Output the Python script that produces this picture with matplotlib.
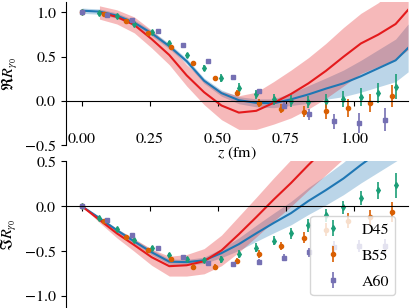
import matplotlib
matplotlib.use("Agg")
import matplotlib.pyplot as plt

plt.rcParams["font.family"] = ["STIXGeneral", "DejaVu Serif"]
plt.rcParams["mathtext.fontset"] = "stix"
plt.rcParams["font.size"] = 11.5

# lattice data, z in fm
z_d45 = [0.0, 0.064, 0.128, 0.192, 0.256, 0.321, 0.385, 0.449, 0.513, 0.577,
         0.641, 0.705, 0.769, 0.833, 0.897, 0.962, 1.026, 1.090, 1.154]
z_b55 = [0.0, 0.0815, 0.163, 0.2445, 0.326, 0.4075, 0.489, 0.5705, 0.652,
         0.7335, 0.815, 0.8965, 0.978, 1.0595, 1.141]
z_a60 = [0.0, 0.0928, 0.1856, 0.2784, 0.3712, 0.464, 0.5568, 0.6496, 0.7424,
         0.8352, 0.928, 1.0208, 1.1136]

re_d45 = [1.0, 0.99, 0.96, 0.875, 0.775, 0.655, 0.515, 0.375, 0.255, 0.15,
          0.075, 0.02, 0.0, -0.01, 0.0, 0.02, 0.045, 0.094, 0.16]
re_d45_err = [0.005, 0.008, 0.01, 0.012, 0.015, 0.02, 0.025, 0.035, 0.045, 0.05,
              0.055, 0.06, 0.065, 0.07, 0.08, 0.09, 0.1, 0.115, 0.14]
re_b55 = [1.0, 0.985, 0.90, 0.77, 0.605, 0.43, 0.255, 0.094, -0.02, -0.085,
          -0.12, -0.11, -0.075, -0.02, 0.056]
re_b55_err = [0.005, 0.008, 0.01, 0.012, 0.015, 0.02, 0.025, 0.035, 0.045, 0.055,
              0.065, 0.09, 0.1, 0.1, 0.12]
re_a60 = [1.0, 0.975, 0.91, 0.795, 0.63, 0.45, 0.27, 0.11, -0.05, -0.15,
          -0.23, -0.245, -0.21]
re_a60_err = [0.005, 0.008, 0.01, 0.012, 0.015, 0.018, 0.022, 0.03, 0.04, 0.06,
              0.085, 0.11, 0.13]

im_d45 = [0.0, -0.126, -0.252, -0.37, -0.46, -0.544, -0.59, -0.60, -0.59, -0.533,
          -0.46, -0.38, -0.30, -0.21, -0.10, -0.01, 0.092, 0.178, 0.233]
im_d45_err = [0.005, 0.008, 0.01, 0.012, 0.015, 0.02, 0.025, 0.03, 0.035, 0.045,
              0.05, 0.055, 0.065, 0.075, 0.07, 0.07, 0.08, 0.095, 0.14]
im_b55 = [0.0, -0.167, -0.34, -0.48, -0.59, -0.67, -0.67, -0.61, -0.53, -0.44,
          -0.35, -0.26, -0.16, -0.12, -0.064]
im_b55_err = [0.005, 0.008, 0.01, 0.015, 0.02, 0.025, 0.03, 0.035, 0.045, 0.045,
              0.06, 0.07, 0.085, 0.085, 0.11]
im_a60 = [0.0, -0.155, -0.315, -0.46, -0.56, -0.63, -0.645, -0.62, -0.57, -0.51,
          -0.45, -0.44, -0.44]
im_a60_err = [0.005, 0.008, 0.01, 0.012, 0.015, 0.02, 0.025, 0.03, 0.04, 0.05,
              0.06, 0.07, 0.08]

# continuum curves
z_fit = [0.0, 0.064, 0.128, 0.192, 0.256, 0.321, 0.385, 0.449, 0.513, 0.577,
         0.641, 0.705, 0.769, 0.833, 0.897, 0.962, 1.026, 1.090, 1.154, 1.2]

re_blue = [1.02, 1.01, 0.965, 0.885, 0.765, 0.62, 0.45, 0.23, 0.09, 0.01,
           -0.02, -0.025, 0.02, 0.075, 0.14, 0.2, 0.28, 0.37, 0.46, 0.6]
re_blue_err = [0.03, 0.03, 0.03, 0.03, 0.03, 0.03, 0.03, 0.03, 0.035, 0.04,
               0.045, 0.05, 0.07, 0.1, 0.12, 0.15, 0.18, 0.21, 0.24, 0.27]
re_red = [None, 1.0, 0.95, 0.86, 0.70, 0.52, 0.29, 0.10, -0.05, -0.13,
          -0.11, -0.02, 0.08, 0.2, 0.34, 0.5, 0.65, 0.75, 0.87, 1.03]
re_red_err = [None, 0.075, 0.08, 0.09, 0.1, 0.11, 0.12, 0.14, 0.16, 0.19,
              0.21, 0.24, 0.27, 0.29, 0.31, 0.33, 0.34, 0.36, 0.4, 0.45]

im_blue = [0.0, -0.13, -0.265, -0.39, -0.51, -0.615, -0.62, -0.6, -0.52, -0.42,
           -0.3, -0.185, -0.075, 0.06, 0.18, 0.31, 0.46, 0.6, 0.74, 0.85]
im_blue_err = [0.0, 0.015, 0.02, 0.025, 0.03, 0.03, 0.03, 0.035, 0.05, 0.07,
               0.09, 0.11, 0.13, 0.15, 0.165, 0.18, 0.2, 0.22, 0.24, 0.26]
im_red = [0.0, -0.15, -0.30, -0.43, -0.565, -0.665, -0.655, -0.61, -0.49, -0.31,
          -0.12, 0.075, 0.26, 0.46, 0.65, 0.85, 1.05, 1.25, 1.45, 1.6]
im_red_err = [0.0, 0.03, 0.05, 0.07, 0.09, 0.11, 0.12, 0.14, 0.17, 0.2,
              0.22, 0.24, 0.26, 0.28, 0.3, 0.32, 0.34, 0.36, 0.38, 0.4]

RED = "#e41a1c"
BLUE = "#1f77b4"
sets = [
    ("D45", "#1b9e77", "d"),
    ("B55", "#d95f02", "o"),
    ("A60", "#7570b3", "s"),
]


def band(ax, z, y, err, color):
    pts = [(a, b, c) for a, b, c in zip(z, y, err) if b is not None]
    zz = [p[0] for p in pts]
    yy = [p[1] for p in pts]
    lo = [p[1] - p[2] for p in pts]
    hi = [p[1] + p[2] for p in pts]
    ax.fill_between(zz, lo, hi, color=color, alpha=0.3, lw=0)
    ax.plot(zz, yy, color=color, lw=1.5)


def style(ax):
    ax.spines["top"].set_visible(False)
    ax.spines["right"].set_visible(False)
    ax.spines["bottom"].set_position(("data", 0))
    ax.set_xlim(-0.06, 1.2)
    ax.set_xticks([0.0, 0.25, 0.5, 0.75, 1.0])


fig = plt.figure(figsize=(4.11, 3.08), dpi=100)
ax1 = fig.add_axes([0.16, 0.528, 0.833, 0.466])
ax2 = fig.add_axes([0.16, 0.0, 0.833, 0.476])

band(ax1, z_fit, re_blue, re_blue_err, BLUE)
band(ax1, z_fit, re_red, re_red_err, RED)
band(ax2, z_fit, im_blue, im_blue_err, BLUE)
band(ax2, z_fit, im_red, im_red_err, RED)

data_re = [(z_d45, re_d45, re_d45_err), (z_b55, re_b55, re_b55_err), (z_a60, re_a60, re_a60_err)]
data_im = [(z_d45, im_d45, im_d45_err), (z_b55, im_b55, im_b55_err), (z_a60, im_a60, im_a60_err)]

for (name, col, mk), (z, y, e) in zip(sets, data_re):
    ax1.errorbar(z, y, yerr=e, fmt=mk, color=col, ms=3, elinewidth=1.2, capsize=0)
for (name, col, mk), (z, y, e) in zip(sets, data_im):
    ax2.errorbar(z, y, yerr=e, fmt=mk, color=col, ms=3, elinewidth=1.2, capsize=0, label=name)

style(ax1)
ax1.set_ylim(-0.5, 1.12)
ax1.set_yticks([-0.5, 0.0, 0.5, 1.0])
ax1.tick_params(axis="x", pad=19)
ax1.set_xlabel(r"$z$ (fm)", labelpad=-1)
ax1.set_ylabel(r"$\Re R_{\gamma_0}$")

style(ax2)
ax2.set_ylim(-1.13, 0.5)
ax2.set_yticks([-1.0, -0.5, 0.0, 0.5])
ax2.set_xticklabels([])
ax2.set_ylabel(r"$\Im R_{\gamma_0}$")
ax2.legend(loc="lower right", labelspacing=0.75, borderaxespad=0.8)

fig.savefig("out.png", dpi=100)
